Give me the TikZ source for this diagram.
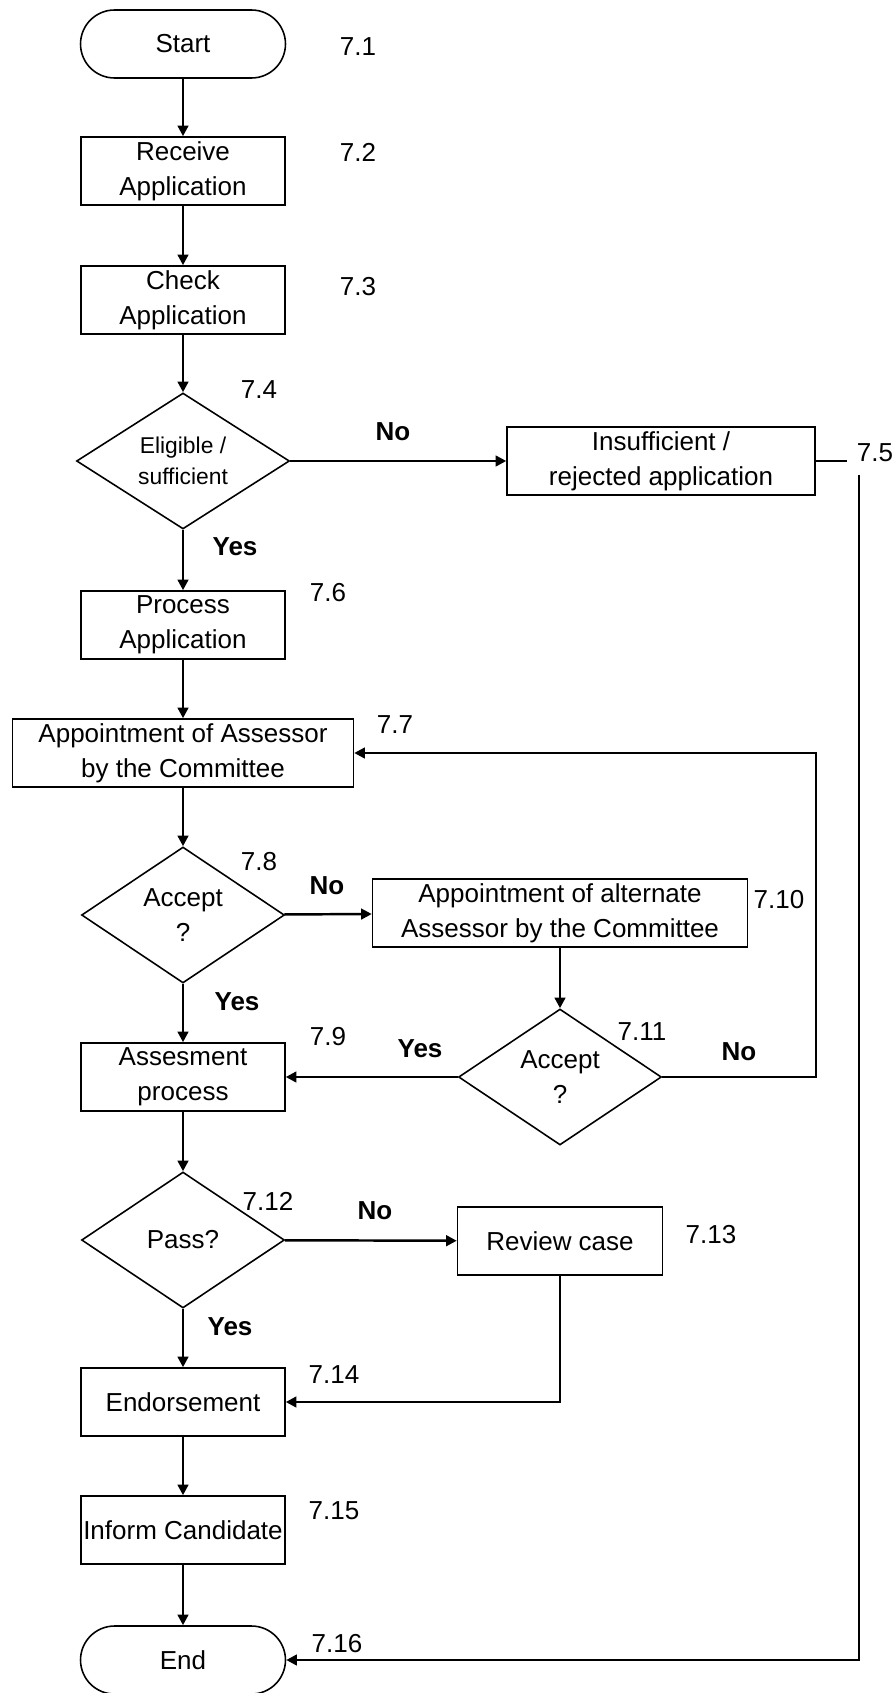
\documentclass[tikz,border=0pt]{standalone}
\usepackage{fontspec}
\setmainfont{Liberation Sans}
\usetikzlibrary{shapes.geometric, arrows.meta}

\begin{document}
\begin{tikzpicture}[x=0.02cm, y=-0.02cm,
  font=\fontsize{14.8}{20}\selectfont,
  box/.style={draw, line width=0.9pt, minimum width=4.08cm, minimum height=1.36cm, align=center, inner sep=1pt},
  term/.style={draw, line width=0.9pt, rounded corners=0.68cm, minimum width=4.1cm, minimum height=1.36cm},
  decide/.style={draw, line width=0.9pt, diamond, aspect=1.5, inner sep=0pt, minimum width=4.06cm, minimum height=2.72cm, align=center},
  num/.style={inner sep=1pt},
  yn/.style={font=\fontsize{14.8}{20}\selectfont\bfseries},
  flow/.style={line width=1.4pt, -{Triangle[length=6pt, width=6pt]}}]
  \useasboundingbox (0,0) rectangle (893,1693);

  % main column
  \node[term] (start) at (183,44) {Start};
  \node[box] (recv) at (183,171) {Receive\\Application};
  \node[box] (check) at (183,300) {Check\\Application};
  \node[decide, minimum width=4.26cm, font=\fontsize{13}{17.6}\selectfont] (elig) at (183,461) {Eligible /\\sufficient};
  \node[box] (process) at (183,625) {Process\\Application};
  \node[box, minimum width=6.82cm] (appoint) at (183,753) {Appointment of Assessor\\by the Committee};
  \node[decide] (accept) at (183,915) {Accept\\?};
  \node[box] (assess) at (183,1077) {Assesment\\process};
  \node[decide] (pass) at (183,1240) {Pass?};
  \node[box] (endorse) at (183,1402) {Endorsement};
  \node[box] (inform) at (183,1530) {Inform Candidate};
  \node[term] (end) at (183,1660) {End};

  % side branches
  \node[box, minimum width=6.16cm] (reject) at (661,461) {Insufficient /\\rejected application};
  \node[box, minimum width=7.5cm] (altern) at (560,913) {Appointment of alternate\\Assessor by the Committee};
  \node[decide] (accept2) at (560,1077) {Accept\\?};
  \node[box, minimum width=4.1cm] (review) at (560,1241) {Review case};

  % step numbers
  \node[num] (n1) at (358,47) {7.1};
  \node[num] (n2) at (358,152) {7.2};
  \node[num] (n3) at (358,287) {7.3};
  \node[num] (n4) at (259,390) {7.4};
  \node[num] (n5) at (875,453) {7.5};
  \node[num] (n6) at (328,593) {7.6};
  \node[num] (n7) at (395,725) {7.7};
  \node[num, fill=white] (n8) at (259,862) {7.8};
  \node[num] (n9) at (328,1037) {7.9};
  \node[num] (n10) at (779,900) {7.10};
  \node[num] (n11) at (642,1032) {7.11};
  \node[num] (n12) at (268,1201) {7.12};
  \node[num] (n13) at (711,1235) {7.13};
  \node[num] (n14) at (334,1375) {7.14};
  \node[num] (n15) at (334,1511) {7.15};
  \node[num] (n16) at (337,1644) {7.16};

  % yes / no
  \node[yn] (no1) at (393,432) {No};
  \node[yn] (yes1) at (235,547) {Yes};
  \node[yn] (no2) at (327,886) {No};
  \node[yn] (yes2) at (237,1002) {Yes};
  \node[yn] (yes3) at (420,1049) {Yes};
  \node[yn] (no3) at (739,1052) {No};
  \node[yn] (no4) at (375,1211) {No};
  \node[yn] (yes4) at (230,1327) {Yes};

  % connectors
  \draw[flow] (start) -- (recv);
  \draw[flow] (recv) -- (check);
  \draw[flow] (check) -- (elig);
  \draw[flow] (elig) -- (reject);
  \draw[flow] (elig) -- (process);
  \draw[flow] (process) -- (appoint);
  \draw[flow] (appoint) -- (accept);
  \draw[flow] (accept) -- (altern);
  \draw[flow] (accept) -- (assess);
  \draw[flow] (altern) -- (accept2);
  \draw[flow] (accept2) -- (assess);
  \coordinate (back) at (816,753);
  \draw[flow] (accept2.east) -| (back) -- (appoint.east);
  \draw[flow] (assess) -- (pass);
  \draw[flow] (pass) -- (review);
  \draw[flow] (pass) -- (endorse);
  \draw[flow] (review.south) |- (endorse.east);
  \draw[flow] (endorse) -- (inform);
  \draw[flow] (inform) -- (end);
  \coordinate (stub) at (847,461);
  \draw[line width=1.4pt] (reject.east) -- (stub);
  \coordinate (drop) at (859,475);
  \draw[flow] (drop) |- (end.east);
\end{tikzpicture}
\end{document}
